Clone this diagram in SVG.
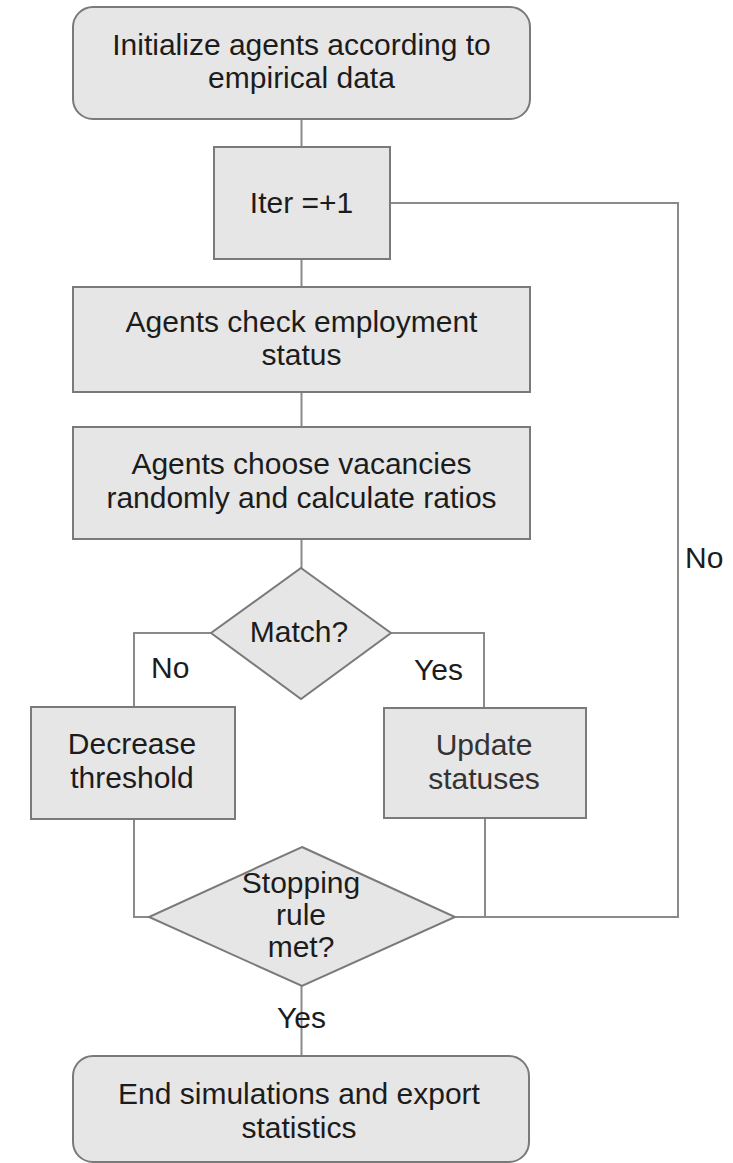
<svg xmlns="http://www.w3.org/2000/svg" width="733" height="1163" viewBox="0 0 733 1163">
<style>
.shape{fill:#e6e6e6;stroke:#7a7a7a;stroke-width:2}
.conn{fill:none;stroke:#8a8a8a;stroke-width:2}
text{font-family:"Liberation Sans",Arial,sans-serif;font-size:30px;fill:#1c1c1c;text-anchor:middle}
.lbl{text-anchor:start}
</style>
<rect width="733" height="1163" fill="#ffffff"/>
<g id="connectors">
<path class="conn" d="M301.5 119V147"/>
<path class="conn" d="M301.5 259V287"/>
<path class="conn" d="M301.5 392V427"/>
<path class="conn" d="M301.5 539V568"/>
<path class="conn" d="M211 633H134V707"/>
<path class="conn" d="M391 633H484V708"/>
<path class="conn" d="M134 819V917H149"/>
<path class="conn" d="M485 818V917"/>
<path class="conn" d="M455 917H678V203H390"/>
<path class="conn" d="M301.5 986V1056"/>
<text class="lbl" x="685" y="568">No</text>
<text class="lbl" x="151" y="678">No</text>
<text class="lbl" x="414" y="680">Yes</text>
<text class="lbl" x="277" y="1028">Yes</text>
</g>
<g id="init">
<rect class="shape" x="73" y="7" width="457" height="112" rx="20" ry="20"/>
<text x="301.5" y="55">Initialize agents according to</text>
<text x="301.5" y="88">empirical data</text>
</g>
<g id="iter">
<rect class="shape" x="214" y="147" width="176" height="112"/>
<text x="301.5" y="213">Iter =+1</text>
</g>
<g id="check">
<rect class="shape" x="73" y="287" width="457" height="105"/>
<text x="301.5" y="332">Agents check employment</text>
<text x="301.5" y="365">status</text>
</g>
<g id="choose">
<rect class="shape" x="73" y="427" width="457" height="112"/>
<text x="301.5" y="474">Agents choose vacancies</text>
<text x="301.5" y="508">randomly and calculate ratios</text>
</g>
<g id="match">
<polygon class="shape" points="301,568 391,633 301,699 211,633"/>
<text x="299" y="642">Match?</text>
</g>
<g id="decrease">
<rect class="shape" x="31" y="707" width="204" height="112"/>
<text x="132" y="754">Decrease</text>
<text x="132" y="788">threshold</text>
</g>
<g id="update">
<rect class="shape" x="384" y="708" width="202" height="110"/>
<text x="484" y="755" style="fill:#333">Update</text>
<text x="484" y="789" style="fill:#333">statuses</text>
</g>
<g id="stopping">
<polygon class="shape" points="302,847 455,917 302,986 149,917"/>
<text x="301" y="893">Stopping</text>
<text x="301" y="925">rule</text>
<text x="301" y="957">met?</text>
</g>
<g id="end">
<rect class="shape" x="73" y="1056" width="456" height="106" rx="20" ry="20"/>
<text x="299" y="1104">End simulations and export</text>
<text x="299" y="1138">statistics</text>
</g>
</svg>
